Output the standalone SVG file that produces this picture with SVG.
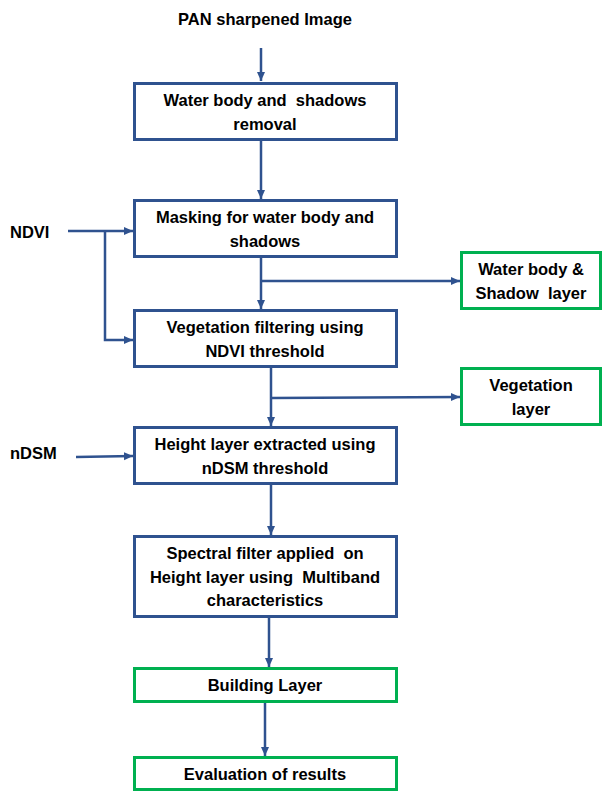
<svg xmlns="http://www.w3.org/2000/svg" width="602" height="791" viewBox="0 0 602 791">
<defs>
<marker id="ah" markerWidth="10" markerHeight="10" refX="9" refY="5" orient="auto" markerUnits="userSpaceOnUse">
<path d="M0,1 L9,5 L0,9 Z" fill="#2F528F"/>
</marker>
<style>
.b{fill:#fff;stroke:#2F528F;stroke-width:3}
.g{fill:#fff;stroke:#00B050;stroke-width:3}
.t{font-family:"Liberation Sans",Arial,sans-serif;font-weight:bold;font-size:16.5px;fill:#000;text-anchor:middle;white-space:pre}
.l{font-family:"Liberation Sans",Arial,sans-serif;font-weight:bold;font-size:16.5px;fill:#000}
.c{fill:none;stroke:#2F528F;stroke-width:2.5}
</style>
</defs>
<rect width="602" height="791" fill="#fff"/>
<g id="connectors">
<line class="c" x1="261" y1="48" x2="261" y2="81" marker-end="url(#ah)"/>
<line class="c" x1="261" y1="140" x2="261" y2="199" marker-end="url(#ah)"/>
<line class="c" x1="261" y1="257" x2="261" y2="309" marker-end="url(#ah)"/>
<line class="c" x1="261" y1="281" x2="460" y2="281" marker-end="url(#ah)"/>
<line class="c" x1="68" y1="231" x2="133" y2="231" marker-end="url(#ah)"/>
<polyline class="c" points="105,231 105,340 133,340" marker-end="url(#ah)"/>
<line class="c" x1="271" y1="367" x2="271" y2="426" marker-end="url(#ah)"/>
<line class="c" x1="271" y1="398" x2="460" y2="397" marker-end="url(#ah)"/>
<line class="c" x1="76" y1="457" x2="133" y2="456" marker-end="url(#ah)"/>
<line class="c" x1="271" y1="484" x2="271" y2="535" marker-end="url(#ah)"/>
<line class="c" x1="269" y1="617" x2="269" y2="667" marker-end="url(#ah)"/>
<line class="c" x1="265" y1="702" x2="265" y2="756" marker-end="url(#ah)"/>
</g>
<g id="pan"><text class="t" x="265" y="25">PAN sharpened Image</text></g>
<g id="ndvi"><text class="l" x="10" y="238">NDVI</text></g>
<g id="ndsm"><text class="l" x="10" y="459">nDSM</text></g>
<g id="n1"><rect class="b" x="134.5" y="83.5" width="262" height="56"/>
<text class="t" x="265" y="106">Water body and  shadows</text><text class="t" x="265" y="130">removal</text></g>
<g id="n2"><rect class="b" x="134.5" y="200.5" width="262" height="56"/>
<text class="t" x="265" y="223">Masking for water body and</text><text class="t" x="265" y="247">shadows</text></g>
<g id="n3"><rect class="g" x="461.5" y="252.5" width="139" height="56"/>
<text class="t" x="531" y="275">Water body &amp;</text><text class="t" x="531" y="299">Shadow  layer</text></g>
<g id="n4"><rect class="b" x="134.5" y="310.5" width="262" height="56"/>
<text class="t" x="265" y="333">Vegetation filtering using</text><text class="t" x="265" y="357">NDVI threshold</text></g>
<g id="n5"><rect class="g" x="461.5" y="368.5" width="139" height="56"/>
<text class="t" x="531" y="391">Vegetation</text><text class="t" x="531" y="415">layer</text></g>
<g id="n6"><rect class="b" x="134.5" y="427.5" width="262" height="56"/>
<text class="t" x="265" y="450">Height layer extracted using</text><text class="t" x="265" y="474">nDSM threshold</text></g>
<g id="n7"><rect class="b" x="134.5" y="536.5" width="262" height="80"/>
<text class="t" x="265" y="559">Spectral filter applied  on</text><text class="t" x="265" y="583">Height layer using  Multiband</text><text class="t" x="265" y="606">characteristics</text></g>
<g id="n8"><rect class="g" x="134.5" y="668.5" width="262" height="33"/>
<text class="t" x="265" y="691">Building Layer</text></g>
<g id="n9"><rect class="g" x="134.5" y="757.5" width="262" height="32"/>
<text class="t" x="265" y="780">Evaluation of results</text></g>
</svg>
